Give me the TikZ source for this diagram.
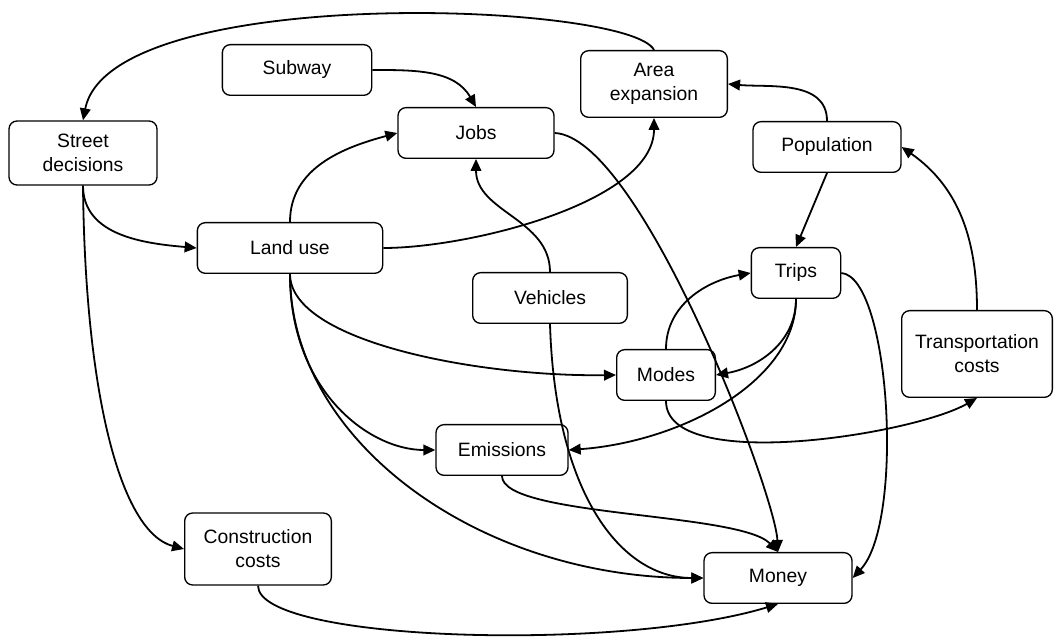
\documentclass[tikz,border=0pt]{standalone}
\usepackage{fontspec}
\setmainfont{Liberation Sans}
\usetikzlibrary{arrows.meta}
\tikzset{font=\fontsize{14.5}{18}\selectfont}
\tikzset{box/.style={draw, line width=1pt, rounded corners=6pt, align=center,
    inner sep=2pt, minimum height=38pt}}
\tikzset{link/.style={line width=1.35pt, -{Triangle[length=9pt,width=8pt]}}}

\begin{document}
\begin{tikzpicture}[x=0.75pt,y=0.75pt]
  \useasboundingbox (0,0) rectangle (1056,642);

  \node[box, minimum width=111pt, minimum height=48pt] (sd) at (83,489) {Street\\decisions};
  \node[box, minimum width=112pt] (sub) at (297,572) {Subway};
  \node[box, minimum width=117pt] (jobs) at (476,509) {Jobs};
  \node[box, minimum width=110pt, minimum height=50pt] (area) at (654,558) {Area\\expansion};
  \node[box, minimum width=111pt] (pop) at (827,495) {Population};
  \node[box, minimum width=139pt] (land) at (290,394) {Land use};
  \node[box, minimum width=116pt] (veh) at (550,344) {Vehicles};
  \node[box, minimum width=67pt] (trips) at (796,369) {Trips};
  \node[box, minimum width=74pt] (modes) at (666,267) {Modes};
  \node[box, minimum width=113pt, minimum height=65pt] (tc) at (977,288) {Transportation\\costs};
  \node[box, minimum width=99pt] (em) at (502,192) {Emissions};
  \node[box, minimum width=110pt, minimum height=54pt] (cc) at (258,93) {Construction\\costs};
  \node[box, minimum width=111pt] (money) at (778,64) {Money};

  \draw[link] (area.north) .. controls (630,640) and (110,660) .. (sd.north);
  \draw[link] (sub.east) to[out=0,in=120] (jobs.north);
  \draw[link] (land.north) to[out=90,in=195] (jobs.west);
  \draw[link] (veh.north) to[out=90,in=-90] (jobs.south);
  \draw[link] (land.east) .. controls (470,394) and (654,440) .. (area.south);
  \draw[link] (jobs.east) .. controls (640,505) and (775,150) .. (money.north);
  \draw[link] (pop.north) to[out=90,in=-5] (area.east);
  \draw[link] (pop.south) -- (trips.north);
  \draw[link] (tc.north) to[out=90,in=-35] (pop.east);
  \draw[link] (sd.south) to[out=-90,in=175] (land.west);
  \draw[link] (sd.south) .. controls (85,250) and (120,110) .. (cc.west);
  \draw[link] (land.south) .. controls (290,300) and (480,265) .. (modes.west);
  \draw[link] (land.south) .. controls (290,250) and (370,192) .. (em.west);
  \draw[link] (land.south) .. controls (290,200) and (480,64) .. (money.west);
  \draw[link] (veh.south) .. controls (555,150) and (620,64) .. (money.west);
  \draw[link] (trips.south) to[out=-90,in=10] (modes.east);
  \draw[link] (trips.south) .. controls (796,260) and (680,200) .. (em.east);
  \draw[link] (modes.north) to[out=90,in=190] (trips.west);
  \draw[link] (modes.south) to[out=-90,in=-150,looseness=0.6] (tc.south);
  \draw[link] (trips.east) .. controls (890,365) and (905,120) .. (money.east);
  \draw[link] (em.south) .. controls (502,125) and (740,130) .. (money.north);
  \draw[link] (cc.south) .. controls (258,0) and (620,-10) .. (money.south);
\end{tikzpicture}
\end{document}
